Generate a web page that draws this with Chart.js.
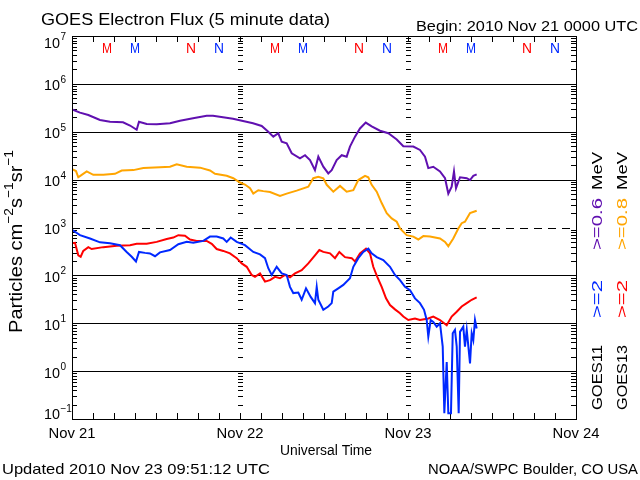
<!DOCTYPE html>
<html><head><meta charset="utf-8">
<script src="https://cdn.jsdelivr.net/npm/chart.js@4/dist/chart.umd.min.js"></script>
<style>html,body{margin:0;padding:0;background:#fff;}canvas{display:block;}</style>
</head><body>
<canvas id="c" width="640" height="480"></canvas>
<script>
// ---- DATA (hours since 2010 Nov 21 0000 UTC, flux in particles cm^-2 s^-1 sr^-1) ----
const g11LowHours = [0,1.14,2.33,4.0,5.43,7.29,8.29,9.24,9.57,10.67,12.1,14.0,15.43,17.29,19.24,20.14,21.57,23.0,24.43,25.86,27.1,28.04,28.76,29.47,29.96,30.67,31.39,32.57,33.29,34.0,34.71,35.19,35.9,36.61,37.1,37.81,38.53,39.24,39.71,40.43,41.14,41.96,42.81,44.0,45.19,46.39,47.33,48.76,49.71,50.43,50.9,51.61,52.57,53.29,53.76,54.24,54.57,54.86,55.43,56.39,56.86,57.33,57.81];
const g11LowFlux = [2.94e5,2.51e5,2.24e5,1.76e5,1.62e5,1.58e5,1.35e5,1.10e5,1.62e5,1.45e5,1.43e5,1.51e5,1.70e5,1.91e5,2.16e5,2.16e5,2.0e5,1.86e5,1.68e5,1.51e5,1.32e5,1.0e5,7.9e4,9.3e4,6.2e4,5.75e4,3.55e4,2.79e4,3.24e4,2.57e4,1.58e4,3.02e4,1.86e4,1.35e4,1.58e4,2.57e4,3.24e4,3.02e4,4.9e4,7.9e4,1.17e5,1.55e5,1.29e5,1.05e5,9.3e4,6.9e4,5.0e4,4.9e4,4.17e4,3.02e4,1.74e4,1.86e4,1.48e4,1.07e4,5.1e3,7.1e3,1.48e4,6.6e3,1.12e4,1.07e4,9.8e3,1.2e4,1.29e4];

const g13LowHours = [0,0.57,0.9,1.39,2.1,3.04,4.47,6.14,7.1,8.76,10.19,12.57,14.0,14.96,16.39,18.29,19.71,20.43,22.1,23.04,24.0,24.71,25.43,25.9,26.61,27.33,28.29,29.71,30.67,32.1,33.76,34.47,35.19,35.9,36.39,37.33,38.29,39.24,40.19,40.9,41.86,42.33,42.81,43.53,44.24,44.96,45.67,46.39,46.86,47.81,48.76,49.47,50.19,51.14,52.57,53.29,53.76,54.47,55.19,55.67,56.14,56.86,57.81];
const g13LowFlux = [1.66e4,1.51e4,1.12e4,1.26e4,1.48e4,1.26e4,1.26e4,1.32e4,1.55e4,1.58e4,1.74e4,1.82e4,1.86e4,2.09e4,1.86e4,1.78e4,1.55e4,1.32e4,1.2e4,1.07e4,8.7e3,7.9e3,6.6e3,5.1e3,6.0e3,5.75e3,5.5e3,4.57e3,5.1e3,5.9e3,7.1e3,1.07e4,1.15e4,1.07e4,7.8e3,5.6e3,7.4e3,5.6e3,6.0e3,9.8e3,1.2e4,1.12e4,7.8e3,5.6e3,3.24e3,2.0e3,1.55e3,1.32e3,955,692,646,562,661,646,589,501,407,589,955,1.23e3,1.32e3,2.0e3,2.24e3];

const g11HighHours = [0,1.14,2.57,4.0,5.43,6.86,7.81,8.53,9.14,9.57,10.43,11.14,11.86,12.57,14.0,15.19,16.39,17.33,18.76,19.71,20.67,21.61,22.1,22.67,23.53,24.71,25.9,26.86,27.57,28.04,28.53,29.24,29.96,30.67,31.14,31.61,32.33,32.81,33.43,34.1,34.71,34.96,35.19,35.9,36.61,37.1,37.33,38.04,38.76,39.71,40.19,40.9,41.61,42.33,42.81,43.53,44.47,45.43,46.14,46.86,47.57,48.29,49.0,49.71,50.29,50.67,50.9,51.24,51.61,52.1,52.57,52.96,53.19,53.53,53.76,54.14,54.39,54.71,54.96,55.24,55.43,55.9,56.14,56.39,56.86,57.1,57.33,57.57,57.81];
const g11HighFlux = [891,692,589,490,468,427,309,245,195,309,295,288,251,302,339,447,501,479,525,646,646,589,501,617,501,427,309,275,229,141,102,151,110,102,57.5,42.7,43.7,30.9,53.7,35.5,26.3,57.5,30.9,19.1,22.4,26.3,45.7,53.7,63.1,87.1,151,229,309,363,288,240,209,151,102,79.4,57.5,49.0,33.1,26.3,19.1,11.7,5.25,11.7,10.7,8.5,10,3.24,0.132,1.55,0.132,0.132,6.17,7.24,3.24,0.132,6.61,8.5,3.24,7.24,1.45,6.17,4.47,11.7,7.76];

const g13HighHours = [0,0.43,0.9,1.24,1.61,2.33,2.81,4.47,6.39,8.29,9.24,10.67,12.1,13.53,14.47,15.19,16.14,16.86,17.81,19.24,19.96,20.67,21.61,22.57,23.53,24.24,24.96,25.67,26.14,26.86,27.57,28.29,29.0,29.71,30.43,31.14,31.86,32.81,33.76,34.71,35.33,35.9,36.86,37.57,38.19,39.0,39.96,40.43,41.14,42.0,42.57,43.04,43.61,44.24,44.86,45.43,46.14,46.86,47.33,48.04,49.0,49.71,50.9,51.61,52.57,53.53,54.24,54.96,55.67,56.39,57.1,57.81];
const g13HighFlux = [468,479,263,245,324,389,355,389,417,427,457,457,501,575,617,692,676,562,525,525,457,355,324,288,229,178,151,102,93.3,110,74.1,79.4,93.3,87.1,102,91.2,110,129,178,263,339,309,288,229,309,240,229,195,288,363,288,151,93.3,57.5,33.1,24.0,19.5,16.2,13.8,11.7,12.6,11.7,12.6,13.8,11.7,9.1,13.8,17.4,22.4,26.3,30.9,34.7];

const dayLabels = ['Nov 21','Nov 22','Nov 23','Nov 24'];
const dayHours = [0,24,48,72];
const yTickValues = [1e7,1e6,1e5,1e4,1e3,1e2,1e1,1e0,1e-1];
const yTickExponents = ['7','6','5','4','3','2','1','0','\u22121'];
const markerLetters = ['M','M','N','N','M','M','N','N','M','M','N','N'];
const markerSat = ['13','11','13','11','13','11','13','11','13','11','13','11'];
const markerHours = [5,9,17,21,29,33,41,45,53,57,65,69];

const COL = {p:'rgb(96,16,176)', o:'rgb(255,165,0)', b:'rgb(0,40,255)', r:'rgb(255,0,0)'};
const FONT = '"Liberation Sans", "DejaVu Sans", sans-serif';

function pts(h, f){ return h.map((x,i)=>({x:x, y:f[i]})); }

function txt(ctx, s, x, y, size, opt){
  opt = opt || {};
  ctx.save();
  ctx.font = size + 'px ' + FONT;
  const w = ctx.measureText(s).width;
  const sx = opt.width ? opt.width / w : 1;
  ctx.translate(x, y);
  if (opt.rot) ctx.rotate(opt.rot);
  ctx.scale(sx, 1);
  ctx.fillStyle = opt.color || '#000';
  ctx.textAlign = opt.align || 'left';
  ctx.textBaseline = 'alphabetic';
  ctx.fillText(s, 0, 0);
  ctx.restore();
}

const decor = {
  id: 'decor',
  beforeDatasetsDraw(chart){
    const ctx = chart.ctx, a = chart.chartArea;
    const xs = chart.scales.x, ys = chart.scales.y;
    ctx.save();
    ctx.strokeStyle = '#000';
    ctx.lineWidth = 1;
    // decade lines
    yTickValues.forEach(v=>{
      if (v >= 1e7 || v <= 0.1) return;
      const y = Math.round(ys.getPixelForValue(v)) + 0.5;
      ctx.setLineDash(v === 1e3 ? [8,6] : []);
      ctx.beginPath(); ctx.moveTo(a.left, y); ctx.lineTo(a.right, y); ctx.stroke();
    });
    ctx.setLineDash([]);
    // minor log ticks on left/right borders and day lines
    for (let e = -1; e < 7; e++){
      for (let m = 2; m <= 9; m++){
        const y = Math.round(ys.getPixelForValue(m * Math.pow(10, e))) + 0.5;
        ctx.beginPath();
        ctx.moveTo(a.left, y); ctx.lineTo(a.left + 5, y);
        ctx.moveTo(a.right, y); ctx.lineTo(a.right - 5, y);
        [24, 48].forEach(h=>{
          const x = Math.round(xs.getPixelForValue(h));
          ctx.moveTo(x - 2, y); ctx.lineTo(x + 3, y);
        });
        ctx.stroke();
      }
    }
    // x ticks every 3 hours
    for (let h = 3; h < 72; h += 3){
      const x = Math.round(xs.getPixelForValue(h)) + 0.5;
      ctx.beginPath();
      ctx.moveTo(x, a.bottom); ctx.lineTo(x, a.bottom - 6);
      ctx.moveTo(x, a.top); ctx.lineTo(x, a.top + 6);
      ctx.stroke();
    }
    ctx.restore();
  },
  afterDraw(chart){
    const ctx = chart.ctx, a = chart.chartArea;
    const xs = chart.scales.x, ys = chart.scales.y;
    ctx.save();
    ctx.strokeStyle = '#000';
    ctx.lineWidth = 1;
    ctx.strokeRect(Math.round(a.left) + 0.5, Math.round(a.top) + 0.5, Math.round(a.right - a.left), Math.round(a.bottom - a.top));
    ctx.restore();

    // titles
    txt(ctx, 'GOES Electron Flux (5 minute data)', 41, 25, 16, {width: 289});
    txt(ctx, 'Begin: 2010 Nov 21 0000 UTC', 416, 31, 14, {width: 222});

    // M / N markers
    markerHours.forEach((h,i)=>{
      txt(ctx, markerLetters[i], xs.getPixelForValue(h), 53, 15, {align:'center', width: 10, color: markerSat[i] === '13' ? COL.r : COL.b});
    });

    // y tick labels
    yTickValues.forEach((v,i)=>{
      let yc = ys.getPixelForValue(v) + 1;
      if (i === 0) yc = a.top + 6;
      if (i === yTickValues.length - 1) yc = a.bottom - 5.5;
      txt(ctx, '10', 60, yc + 5.5, 15, {align:'right', width: 16});
      txt(ctx, yTickExponents[i], 60.5, yc - 2, 10, {align:'left'});
    });

    // x tick labels
    dayHours.forEach((h,i)=>{
      txt(ctx, dayLabels[i], xs.getPixelForValue(h), 438, 14, {align:'center', width: 47});
    });
    txt(ctx, 'Universal Time', 326, 455, 14, {align:'center', width: 92});
    txt(ctx, 'Updated 2010 Nov 23 09:51:12 UTC', 2, 474, 15, {width: 268});
    txt(ctx, 'NOAA/SWPC Boulder, CO USA', 638, 474, 15, {align:'right', width: 210});

    // y axis title (rotated, with superscripts)
    const segs = [['Particles cm',0],['\u22122',1],['s',0],['\u22121',1],['sr',0],['\u22121',1]];
    ctx.save();
    let total = 0;
    segs.forEach(s=>{ ctx.font = (s[1] ? 13 : 19) + 'px ' + FONT; s.push(ctx.measureText(s[0]).width); total += s[2]; });
    const k = 183 / total;
    ctx.translate(22, 333);
    ctx.rotate(-Math.PI/2);
    ctx.scale(k, 1);
    ctx.fillStyle = '#000';
    let cx = 0;
    segs.forEach(s=>{
      ctx.font = (s[1] ? 13 : 19) + 'px ' + FONT;
      ctx.fillText(s[0], cx, s[1] ? -9 : 0);
      cx += s[2];
    });
    ctx.restore();

    // right-side legend (rotated)
    const leg = [
      [602, 410, 345, 'GOES11', '#000'], [602, 318, 280, '>=2', COL.b], [602, 250, 198, '>=0.6', COL.p], [602, 190, 152, 'MeV', '#000'],
      [627, 410, 345, 'GOES13', '#000'], [627, 318, 280, '>=2', COL.r], [627, 250, 198, '>=0.8', COL.o], [627, 190, 152, 'MeV', '#000']
    ];
    leg.forEach(l=>{
      txt(ctx, l[3], l[0], l[1], 14, {rot: -Math.PI/2, width: l[1] - l[2], color: l[4]});
    });
  }
};

const ds = (label, h, f, c) => ({label, data: pts(h, f), borderColor: c, backgroundColor: c, borderWidth: 2, pointRadius: 0, tension: 0, fill: false});

new Chart(document.getElementById('c'), {
  type: 'line',
  data: {datasets: [
    ds('GOES11 >=0.6 MeV', g11LowHours, g11LowFlux, COL.p),
    ds('GOES13 >=0.8 MeV', g13LowHours, g13LowFlux, COL.o),
    ds('GOES11 >=2 MeV', g11HighHours, g11HighFlux, COL.b),
    ds('GOES13 >=2 MeV', g13HighHours, g13HighFlux, COL.r)
  ]},
  options: {
    responsive: false, animation: false,
    layout: {padding: {left: 72, top: 36, right: 64, bottom: 61}},
    plugins: {legend: {display: false}, tooltip: {enabled: false}},
    scales: {
      x: {type: 'linear', min: 0, max: 72, display: false},
      y: {type: 'logarithmic', min: 0.1, max: 1e7, display: false}
    }
  },
  plugins: [decor, {id:'bg', beforeDraw(c){const x=c.ctx; x.save(); x.fillStyle='#fff'; x.fillRect(0,0,c.width,c.height); x.restore();}}]
});
</script>
</body></html>
